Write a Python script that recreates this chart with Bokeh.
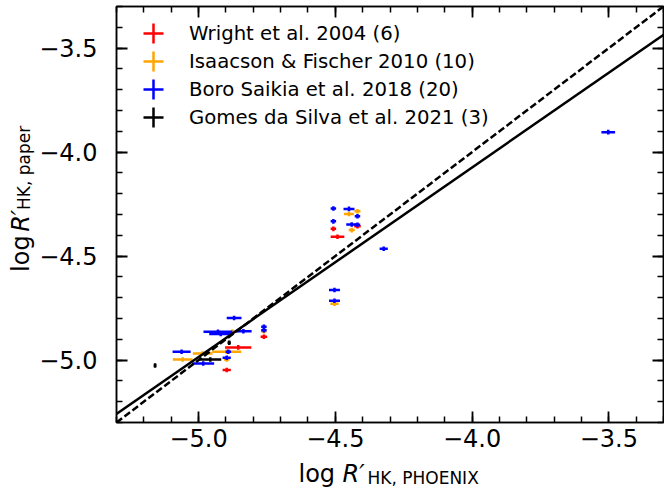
import numpy as np
from bokeh.plotting import figure
from bokeh.layouts import column, row
from bokeh.models import (Range1d, LinearAxis, SingleIntervalTicker, CustomJSTickFormatter,
                          Slope, Legend, LegendItem, ColumnDataSource)
from bokeh.core.properties import value
from bokeh.embed import file_html
from bokeh.resources import INLINE

# ---------------- data ----------------
wright_x = [-4.507, -4.492, -4.419, -4.761, -4.855, -4.897]
wright_y = [-4.369, -4.407, -4.356, -4.888, -4.939, -5.048]
wright_xerr = [0.010, 0.025, 0.012, 0.012, 0.048, 0.015]

isaacson_x = [-4.450, -4.419, -4.440, -4.503, -4.985, -4.897, -4.897, -5.058, -4.876, -4.761]
isaacson_y = [-4.298, -4.284, -4.375, -4.729, -4.968, -4.960, -4.997, -4.997, -4.864, -4.861]
isaacson_xerr = [0.018, 0.011, 0.011, 0.015, 0.036, 0.053, 0.010, 0.036, 0.010, 0.010]

boro_x = [-3.502, -4.323, -4.507, -4.450, -4.419, -4.507, -4.440, -4.419, -4.503, -4.503,
          -4.870, -4.929, -4.919, -4.836, -4.761, -4.761, -5.062, -4.891, -4.897, -4.983]
boro_y = [-3.904, -4.465, -4.271, -4.273, -4.308, -4.333, -4.348, -4.349, -4.663, -4.715,
          -4.798, -4.864, -4.874, -4.861, -4.840, -4.856, -4.960, -4.960, -4.989, -5.016]
boro_xerr = [0.025, 0.015, 0.010, 0.020, 0.010, 0.010, 0.020, 0.010, 0.020, 0.020,
             0.027, 0.053, 0.042, 0.030, 0.010, 0.010, 0.033, 0.010, 0.015, 0.040]

gomes_x = [-5.159, -4.957, -4.888]
gomes_y = [-5.026, -4.997, -4.917]
gomes_xerr = [0.005, 0.040, 0.006]

yerr_all = 0.011

series_labels = ["Wright et al. 2004 (6)", "Isaacson & Fischer 2010 (10)",
                 "Boro Saikia et al. 2018 (20)", "Gomes da Silva et al. 2021 (3)"]
series_colors = ["#ff0000", "#ffa500", "#0000ff", "#000000"]

fit_slope = 0.911
fit_intercept = -0.43

x_tick_step = 0.5
x_limits = (-5.3, -3.3)
y_limits = (-5.3, -3.3)

FONT = "DejaVu Sans"

# ---------------- main figure ----------------
YLAB_W = 36
MAIN_H = 456
XLAB_H = 497 - MAIN_H
p = figure(frame_width=547, frame_height=416,
           x_range=Range1d(*x_limits), y_range=Range1d(*y_limits),
           output_backend="svg", toolbar_location=None,
           min_border_left=115 - YLAB_W, min_border_right=2, min_border_top=6,
           min_border_bottom=MAIN_H - 6 - 416)
p.background_fill_color = "white"
p.border_fill_color = "white"
p.outline_line_color = "black"
p.outline_line_width = 1.5
p.xgrid.visible = False
p.ygrid.visible = False

fmt = CustomJSTickFormatter(code="return tick.toFixed(1).replace('-', '\u2212');")
blank = CustomJSTickFormatter(code="return '';")


def style_axis(ax, formatter, standoff):
    ax.ticker = SingleIntervalTicker(interval=x_tick_step, num_minor_ticks=5)
    ax.formatter = formatter
    ax.major_tick_in = 11
    ax.major_tick_out = 0
    ax.minor_tick_in = 6
    ax.minor_tick_out = 0
    ax.major_tick_line_width = 1.8
    ax.minor_tick_line_width = 1.5
    ax.major_tick_line_color = "black"
    ax.minor_tick_line_color = "black"
    ax.axis_line_width = 1.5
    ax.axis_line_color = "black"
    ax.major_label_text_font = FONT
    ax.major_label_text_font_size = "24px"
    ax.major_label_text_color = "black"
    ax.major_label_standoff = standoff


style_axis(p.xaxis[0], fmt, 6)
style_axis(p.yaxis[0], fmt, 19)
top_ax = LinearAxis()
right_ax = LinearAxis()
style_axis(top_ax, blank, 0)
style_axis(right_ax, blank, 0)
top_ax.major_label_text_font_size = "0px"
right_ax.major_label_text_font_size = "0px"
p.add_layout(top_ax, "above")
p.add_layout(right_ax, "right")

# ---------------- error bars ----------------
datasets = [
    (wright_x, wright_y, wright_xerr),
    (isaacson_x, isaacson_y, isaacson_xerr),
    (boro_x, boro_y, boro_xerr),
    (gomes_x, gomes_y, gomes_xerr),
]

legend_renderers = []
for (xs, ys, xe), color in zip(datasets, series_colors):
    xs = np.array(xs); ys = np.array(ys); xe = np.array(xe)
    src = ColumnDataSource(dict(x=xs, y=ys, xl=xs - xe, xr=xs + xe,
                                yl=ys - yerr_all, yh=ys + yerr_all))
    p.segment(x0="xl", y0="y", x1="xr", y1="y", source=src, line_color=color, line_width=2.5)
    p.segment(x0="x", y0="yl", x1="x", y1="yh", source=src, line_color=color, line_width=2.5)
    # zero-size cross markers: only used to draw the "+" legend handle
    r = p.scatter(x="x", y="y", source=src, marker="cross", size=0,
                  line_color=color, line_width=2.5)
    legend_renderers.append(r)

# ---------------- lines ----------------
p.add_layout(Slope(gradient=1.0, y_intercept=0.0, line_color="black", line_width=2.5,
                   line_dash="7 3"))
p.add_layout(Slope(gradient=fit_slope, y_intercept=fit_intercept, line_color="black",
                   line_width=2.5))

# ---------------- legend (one row each) ----------------
for i, (lab, r) in enumerate(zip(series_labels, legend_renderers)):
    lg = Legend(items=[LegendItem(label=lab, renderers=[r])],
                location=(12, 364 - 28 * i),
                glyph_width=50, glyph_height=50, label_standoff=11,
                label_text_font=FONT, label_text_font_size="19.7px",
                label_text_color="black",
                padding=0, margin=0, spacing=0,
                border_line_color=None, background_fill_alpha=0)
    p.add_layout(lg)

# ---------------- axis titles (own strips) ----------------
ylab = figure(width=YLAB_W, height=MAIN_H, x_range=Range1d(0, YLAB_W),
              y_range=Range1d(0, MAIN_H), x_axis_type=None, y_axis_type=None,
              output_backend="svg", toolbar_location=None, min_border=0)
ylab.outline_line_color = None
ylab_src = ColumnDataSource(dict(
    x=[20, 20, 23.5], y=[MAIN_H - 291, MAIN_H - 247, MAIN_H - 223],
    text=["log", "R\u2032", "HK, paper"],
    size=["24px", "24px", "17px"], style=["normal", "italic", "normal"]))
ylab.text(x="x", y="y", text="text", source=ylab_src, angle=np.pi / 2,
          text_font=value(FONT), text_font_size="size", text_font_style="style",
          text_color="black", text_align="left", text_baseline="alphabetic")

xlab = figure(width=664, height=XLAB_H, x_range=Range1d(0, 664),
              y_range=Range1d(0, XLAB_H), x_axis_type=None, y_axis_type=None,
              output_backend="svg", toolbar_location=None, min_border=0)
xlab.outline_line_color = None
xlab_src = ColumnDataSource(dict(
    x=[298, 342, 367], y=[497 - 473, 497 - 473, 497 - 477],
    text=["log", "R\u2032", "HK, PHOENIX"],
    size=["24px", "24px", "17px"], style=["normal", "italic", "normal"]))
xlab.text(x="x", y="y", text="text", source=xlab_src,
          text_font=value(FONT), text_font_size="size", text_font_style="style",
          text_color="black", text_align="left", text_baseline="alphabetic")

layout = column(row(ylab, p, spacing=0), xlab, spacing=0)

open("out.html", "w").write(file_html(layout, INLINE))
